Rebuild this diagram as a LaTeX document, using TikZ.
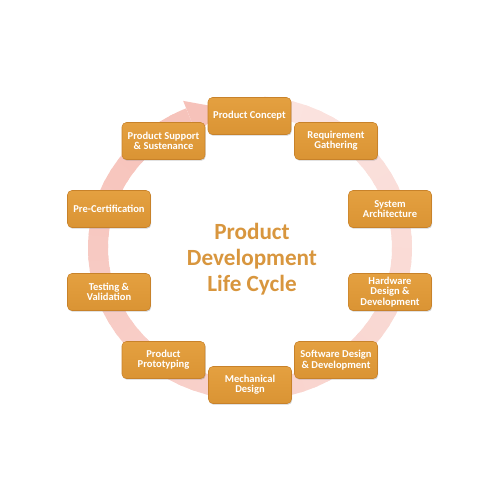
\documentclass[tikz,border=0pt]{standalone}
\usepackage{fontspec}
\setmainfont{Carlito}
\usetikzlibrary{shadows}
\definecolor{boxtop}{RGB}{228,160,64}
\definecolor{boxbot}{RGB}{218,148,52}
\definecolor{boxedge}{RGB}{200,130,42}
\definecolor{titleorange}{RGB}{216,150,62}
\definecolor{ringlight}{RGB}{251,228,224}
\definecolor{ringdark}{RGB}{246,194,186}
\tikzset{
  stage/.style={rectangle, rounded corners=2.5pt, draw=boxedge, line width=0.3pt,
    top color=boxtop, bottom color=boxbot, minimum width=1.66cm, minimum height=0.74cm,
    inner sep=1pt, align=center, text=white, font=\bfseries\fontsize{6}{5.9}\selectfont,
    drop shadow={shadow xshift=0.4pt, shadow yshift=-0.7pt, opacity=0.35}},
  cycletitle/.style={align=center, text=titleorange, font=\bfseries\fontsize{13.2}{14.7}\selectfont}
}
\begin{document}
\begin{tikzpicture}[x=0.02cm, y=-0.02cm]
\useasboundingbox (0, 0) rectangle (500, 500);
%Ring
\foreach \a in {275, 280, ..., 600} {
  \pgfmathsetmacro{\mix}{(\a-275)/3.3}
  \pgfmathsetmacro{\px}{250+152*cos(\a)}
  \pgfmathsetmacro{\py}{248+142*sin(\a)}
  \draw[line width=0.4cm, ringdark!\mix!ringlight] (\px, \py) arc[start angle=\a, end angle=\a+6.7, x radius=152, y radius=142];
}
\fill[ringdark] (183.2, 100.9) -- (223.6, 108.2) -- (196.6, 134.3) -- cycle;
%Stages
\node[stage] (concept) at (249.5, 116) {Product Concept};
\node[stage] (requirement) at (336, 141) {Requirement\\Gathering};
\node[stage] (architecture) at (390, 209) {System\\Architecture};
\node[stage] (hardware) at (390, 292) {Hardware\\Design \&\\Development};
\node[stage] (software) at (336, 360) {Software Design\\\& Development};
\node[stage] (mechanical) at (250, 385) {Mechanical\\Design};
\node[stage] (prototyping) at (163.5, 360) {Product\\Prototyping};
\node[stage] (testing) at (109, 292) {Testing \&\\Validation};
\node[stage] (precert) at (109, 209) {Pre-Certification};
\node[stage] (support) at (163.5, 141) {Product Support\\\& Sustenance};
\node[cycletitle] (title) at (252, 259) {Product\\Development\\Life Cycle};
\end{tikzpicture}
\end{document}
